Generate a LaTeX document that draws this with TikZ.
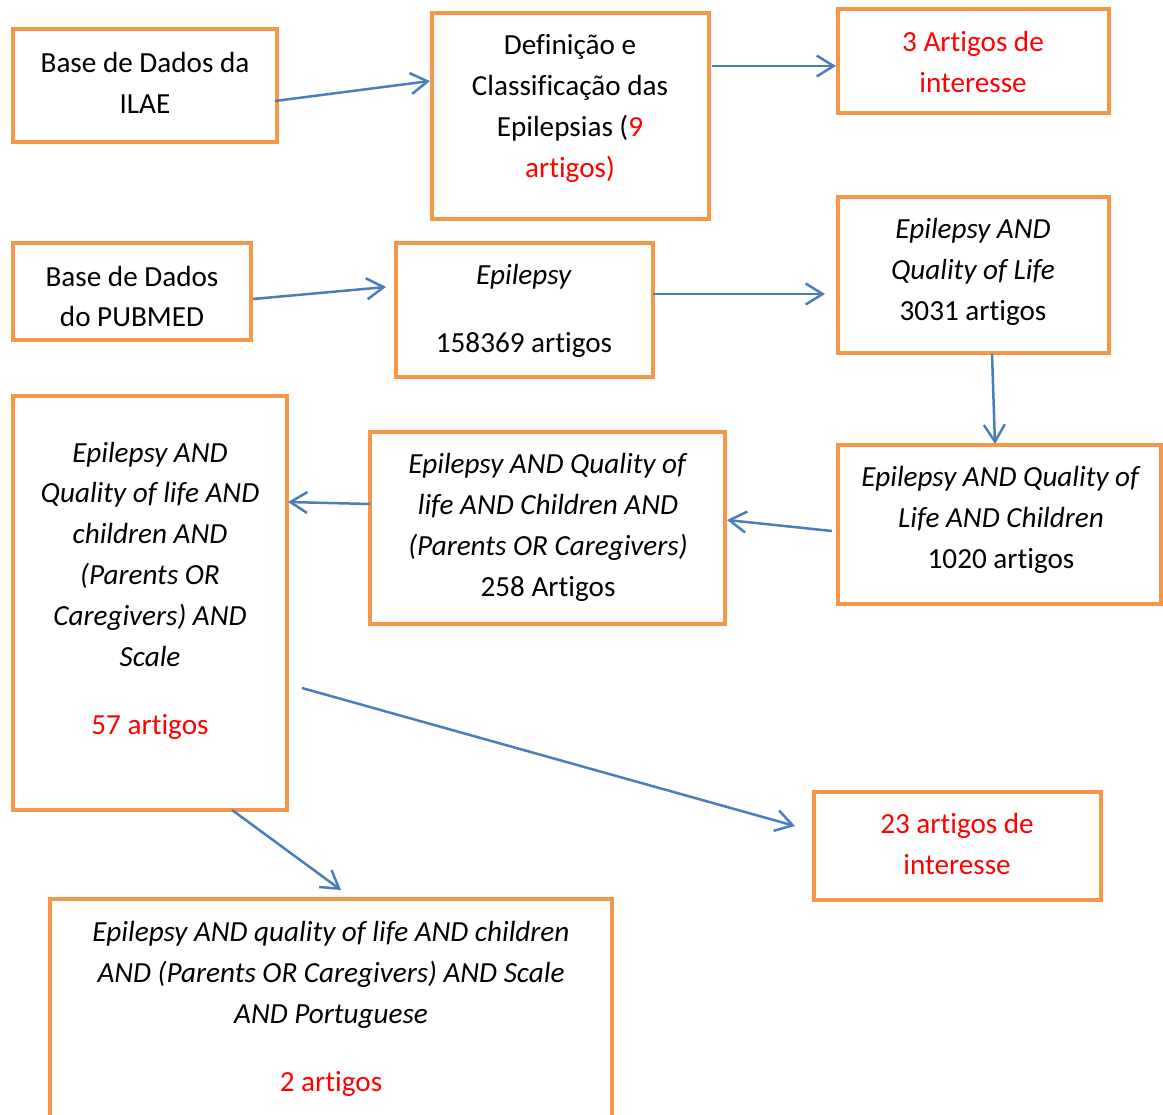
\documentclass[tikz,border=0pt]{standalone}
\usepackage{fontspec}
\setmainfont[Ligatures=NoCommon]{Carlito}
\usetikzlibrary{arrows.meta,calc}
\definecolor{boxorange}{RGB}{247,150,70}
\definecolor{arrowblue}{RGB}{74,126,187}

\begin{document}
\begin{tikzpicture}[x=0.02cm,y=-0.02cm,
	box/.style={draw=boxorange,line width=0.08cm,inner sep=0pt,outer sep=0pt},
	txt/.style={align=center,inner sep=0pt,font=\fontsize{16.6}{23.25}\selectfont},
	flow/.style={draw=arrowblue,line width=0.05cm,-{Straight Barb[length=0.34cm,width=0.42cm]}}]
	\useasboundingbox (0,0) rectangle (1163,1115);

	\path (145,85.5) node[box,minimum width=5.28cm,minimum height=2.26cm] (ilae) {};
	\path (570.5,116) node[box,minimum width=5.54cm,minimum height=4.12cm] (defin) {};
	\path (973.5,61) node[box,minimum width=5.42cm,minimum height=2.08cm] (art3) {};
	\path (132,291.5) node[box,minimum width=4.76cm,minimum height=1.94cm] (pubmed) {};
	\path (524.5,310) node[box,minimum width=5.14cm,minimum height=2.68cm] (epi) {};
	\path (973.5,275) node[box,minimum width=5.42cm,minimum height=3.12cm] (qol) {};
	\path (999.5,524.5) node[box,minimum width=6.46cm,minimum height=3.18cm] (qolc) {};
	\path (547.5,528) node[box,minimum width=7.10cm,minimum height=3.84cm] (parents) {};
	\path (150,603) node[box,minimum width=5.48cm,minimum height=8.28cm] (scale) {};
	\path (957.5,846) node[box,minimum width=5.74cm,minimum height=2.16cm] (art23) {};
	\path (331,1017) node[box,minimum width=11.24cm,minimum height=4.72cm] (port) {};

	\path (145,83) node[txt] (ilaetxt) {Base de Dados da\\ILAE};
	\path (570,108.5) node[txt] (defintxt) {Definição e\\Classificação das\\Epilepsias (\textcolor{red}{9}\\\textcolor{red}{artigos)}};
	\path (973,62) node[txt,text=red] (art3txt) {3 Artigos de\\interesse};
	\path (132,296.5) node[txt] (pubmedtxt) {Base de Dados\\do PUBMED};
	\path (524,311) node[txt] (epitxt) {\textit{Epilepsy}\\[0.54cm]158369 artigos};
	\path (973,272) node[txt] (qoltxt) {\textit{Epilepsy AND}\\\textit{Quality of Life}\\3031 artigos};
	\path (1001,520) node[txt] (qolctxt) {\textit{Epilepsy AND Quality of}\\\textit{Life AND Children}\\1020 artigos};
	\path (548,527.5) node[txt] (parentstxt) {\textit{Epilepsy AND Quality of}\\\textit{life AND Children AND}\\\textit{(Parents OR Caregivers)}\\258 Artigos};
	\path (150,590.5) node[txt] (scaletxt) {\textit{Epilepsy AND}\\\textit{Quality of life AND}\\\textit{children AND}\\\textit{(Parents OR}\\\textit{Caregivers) AND}\\\textit{Scale}\\[0.54cm]\textcolor{red}{57 artigos}};
	\path (957,844) node[txt,text=red] (art23txt) {23 artigos de\\interesse};
	\path (331,1009) node[txt] (porttxt) {\textit{Epilepsy AND quality of life AND children}\\\textit{AND (Parents OR Caregivers) AND Scale}\\\textit{AND Portuguese}\\[0.54cm]\textcolor{red}{2 artigos}};

	\draw[flow] ($(ilae.east)+(-2,15.5)$) -- ($(defin.west)+(-2,-35)$);
	\draw[flow] ($(defin.east)+(3,-50)$) -- ($(art3.west)+(-2,5)$);
	\draw[flow] ($(pubmed.east)+(2,7.5)$) -- ($(epi.west)+(-10,-23)$);
	\draw[flow] ($(epi.east)+(0,-16)$) -- ($(qol.west)+(-13,19)$);
	\draw[flow] ($(qol.south)+(18.5,1)$) -- ($(qolc.north)+(-4.5,-1)$);
	\draw[flow] ($(qolc.west)+(-6,6.5)$) -- ($(parents.east)+(2,-8)$);
	\draw[flow] ($(parents.west)+(0,-24)$) -- ($(scale.east)+(1,-101)$);
	\draw[flow] ($(scale.east)+(15,85)$) -- ($(art23.west)+(-19,-20)$);
	\draw[flow] ($(scale.south)+(82,0)$) -- ($(port.north)+(10,-9)$);
\end{tikzpicture}
\end{document}
